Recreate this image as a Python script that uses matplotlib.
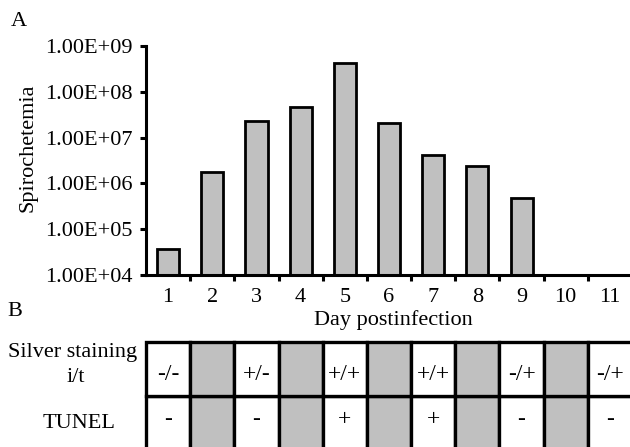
import matplotlib
matplotlib.use("Agg")
import matplotlib.pyplot as plt
import numpy as np
from matplotlib.ticker import FixedLocator, FuncFormatter

plt.rcParams['font.family'] = ['Liberation Serif', 'DejaVu Serif']

days = [1, 2, 3, 4, 5, 6, 7, 8, 9, 10, 11]
spirochetemia = [3.7e4, 1.75e6, 2.3e7, 4.7e7, 4.2e8, 2.1e7, 4.2e6, 2.4e6, 4.7e5, 0, 0]
ytick_values = [1e4, 1e5, 1e6, 1e7, 1e8, 1e9]
silver = ["-/-", None, "+/-", None, "+/+", None, "+/+", None, "-/+", None, "-/+"]
tunel = ["-", None, "-", None, "+", None, "+", None, "-", None, "-"]
row_labels = ["Silver staining", "i/t", "TUNEL"]

W, H = 630, 447
fig = plt.figure(figsize=(W / 100, H / 100), dpi=100)

FS = 16
GRAY = '#c0c0c0'
x = np.arange(len(days))

# ---- Panel A ----
ax_l, ax_r = 146, 632
ax_t, ax_b = 46, 275
ax = fig.add_axes([ax_l / W, (H - ax_b) / H, (ax_r - ax_l) / W, (ax_b - ax_t) / H])
mask = [v > 0 for v in spirochetemia]
ax.bar(x[mask], np.array(spirochetemia)[mask], width=0.5, color=GRAY,
       edgecolor='black', linewidth=2.0, zorder=2)
ax.set_yscale('log')
ax.set_ylim(1e4, 1e9)
ax.set_xlim(-0.5, len(days) - 0.5)
ax.yaxis.set_major_locator(FixedLocator(ytick_values))
ax.yaxis.set_minor_locator(FixedLocator([]))
ax.yaxis.set_major_formatter(FuncFormatter(lambda v, p: "%.2fE+%02d" % (v / 10 ** int(round(np.log10(v))), int(round(np.log10(v))))))
ax.tick_params(axis='y', which='major', direction='out', length=4, width=2.2,
               labelsize=FS, pad=6)
ax.set_xticks(x)
ax.set_xticklabels([str(d) for d in days])
ax.set_xticks(x[:-1] + 0.5, minor=True)
ax.tick_params(axis='x', which='major', length=0, labelsize=FS, pad=9)
ax.tick_params(axis='x', which='minor', direction='out', length=4, width=2.2)
for s in ['top', 'right']:
    ax.spines[s].set_visible(False)
for s in ['left', 'bottom']:
    ax.spines[s].set_linewidth(2.2)
ax.patch.set_alpha(0)

fig.text(28 / W, (H - 148) / H, "Spirochetemia", rotation=90, ha='center',
         va='center', fontsize=FS)
fig.text(393 / W, (H - 325) / H, "Day postinfection", ha='center',
         va='baseline', fontsize=FS)
fig.text(19 / W, (H - 22) / H, "A", ha='center', va='center', fontsize=FS)
fig.text(15 / W, (H - 312) / H, "B", ha='center', va='center', fontsize=FS)

# ---- Panel B (table) ----
t_top, t_bot = 342, 449
ax2 = fig.add_axes([ax_l / W, (H - t_bot) / H, (ax_r - ax_l) / W, (t_bot - t_top) / H])
ax2.set_xlim(-0.5, len(days) - 0.5)
ax2.set_ylim(0, 2)
ax2.axis('off')
for i in range(len(days)):
    for r, vals in enumerate([tunel, silver]):
        fc = 'white' if vals[i] is not None else GRAY
        ax2.bar(i, 1, bottom=r, width=1, color=fc, edgecolor='black',
                linewidth=2.4, clip_on=False)
    if silver[i] is not None:
        ax2.text(i, 1.40, silver[i], ha='center', va='center', fontsize=FS + 1)
    if tunel[i] is not None:
        ax2.text(i, 0.55, tunel[i], ha='center', va='center', fontsize=FS + 1)

fig.text(73 / W, (H - 352) / H, row_labels[0], ha='center', va='center',
         fontsize=FS)
fig.text(76 / W, (H - 377) / H, row_labels[1], ha='center', va='center',
         fontsize=FS)
fig.text(79 / W, (H - 424) / H, row_labels[2], ha='center', va='center',
         fontsize=FS)

fig.savefig("out.png", dpi=100)
